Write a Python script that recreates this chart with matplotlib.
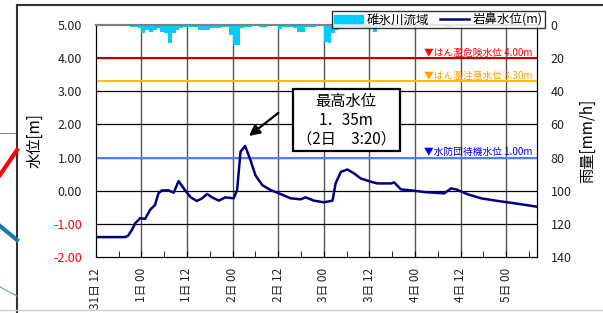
import numpy as np
import matplotlib.pyplot as plt
from matplotlib.patches import Patch
from matplotlib.lines import Line2D
import matplotlib.transforms as mtransforms

plt.rcParams['font.family'] = ['Noto Sans CJK JP', 'DejaVu Sans']

# 岩鼻水位 (31日12時からの経過時間[h], 水位[m])
level_hours = [0, 7.7, 8.5, 9.5, 10.4, 11.7, 13, 14.3, 15.6, 16.5, 17.4, 19.2, 20.5, 21.8,
               23.6, 25, 26.6, 28, 29.3, 30.6, 32.4, 34.1, 36.3, 37.2, 38.1, 39.3, 40.7,
               42, 43.8, 46, 48.2, 51.3, 53.9, 55.2, 57.4, 60, 62.3, 63.1, 64.5, 66.2, 68,
               69.7, 72.4, 74.1, 77.7, 78.5, 80.3, 83.8, 86.4, 89.1, 91.7, 93.5, 94.8,
               97.9, 101.4, 105.8, 110.2, 115.9]
level_m = [-1.40, -1.40, -1.36, -1.19, -0.98, -0.83, -0.85, -0.58, -0.43, -0.08, 0.01, 0.01,
           -0.06, 0.29, 0.00, -0.20, -0.31, -0.23, -0.10, -0.20, -0.30, -0.20, -0.23, 0.02,
           1.18, 1.35, 0.93, 0.47, 0.17, 0.02, -0.08, -0.23, -0.26, -0.20, -0.30, -0.35,
           -0.30, 0.22, 0.57, 0.64, 0.52, 0.37, 0.27, 0.22, 0.22, 0.25, 0.04, 0.00, -0.04,
           -0.06, -0.08, 0.07, 0.04, -0.11, -0.23, -0.31, -0.38, -0.48]

# 碓氷川流域 時間雨量 (経過時間[h], 雨量[mm/h])
rain_hours = [9, 10, 11, 12, 13, 14, 15, 16, 17, 18, 19, 20, 21, 22, 23, 24, 25, 26, 27, 28,
              29, 30, 31, 32, 33, 34, 35, 36, 37, 38, 39, 40, 43, 44, 48, 49, 50, 51, 52, 53,
              54, 55, 56, 57, 60, 61, 62, 63, 64, 65, 66, 67, 68, 69, 70, 71, 72, 73, 74,
              75, 80, 81, 92, 93]
rain_mm = [1, 1, 2, 5, 3, 4, 3, 2, 4, 5, 11, 5, 3, 2, 1, 1, 1, 1, 3, 3,
           3, 2, 2, 2, 1, 1, 6, 12, 12, 2, 1, 1, 1, 1, 2.5, 1, 1, 1, 2, 4,
           4, 1, 1, 1, 10, 11, 5, 3, 2, 1, 1, 1, 1, 1, 2, 2, 1, 4, 1,
           1, 1, 1, 1, 1]

tick_hours = [0, 12, 24, 36, 48, 60, 72, 84, 96, 108]
tick_labels = ['31日 12', '1日 00', '1日 12', '2日 00', '2日 12', '3日 00', '3日 12',
               '4日 00', '4日 12', '5日 00']

ref_levels = [4.00, 3.30, 1.00]
ref_names = ['▼はん濫危険水位 4.00m', '▼はん濫注意水位 3.30m', '▼水防団待機水位 1.00m']
ref_colors = ['#c00000', '#ffc000', '#4f7ff0']
ref_text_colors = ['#ff0000', '#ffa000', '#0000ff']

peak_hour = 39.33
peak_level = 1.35
peak_label = '最高水位\n1．35m\n（2日　3:20）'

fig = plt.figure(figsize=(6.03, 3.13), dpi=100)
ax = fig.add_axes([0.1587, 0.179, 0.7313, 0.741])
ax2 = ax.twinx()

ax.set_xlim(0, 116)
ax.set_ylim(-2, 5)
ax2.set_ylim(140, 0)

# grid
for h in tick_hours[1:]:
    ax.axvline(h, color='#555555', lw=1.0, zorder=1)
for v in range(-1, 5):
    ax.axhline(v, color='black', lw=0.9, zorder=1)

for lv, name, c, tc in zip(ref_levels, ref_names, ref_colors, ref_text_colors):
    ax.axhline(lv, color=c, lw=1.5, zorder=2)
    ax.text(0.99, lv + 0.02, name, color=tc, fontsize=7, ha='right', va='bottom',
            transform=mtransforms.blended_transform_factory(ax.transAxes, ax.transData),
            zorder=3)

ax.plot(level_hours, level_m, color='#000080', lw=1.8, zorder=4)
ax2.bar(rain_hours, rain_mm, width=1.0, align='edge', color='#00ccff', lw=0)

ax.set_yticks(np.arange(-2, 6, 1))
ax.set_yticklabels(['%.2f' % v for v in np.arange(-2, 6, 1)], fontsize=9, color='#222222')
for lab in ax.get_yticklabels()[:2]:
    lab.set_color('#ff0000')
ax2.set_yticks(np.arange(0, 141, 20))
ax2.set_yticklabels([str(v) for v in range(0, 141, 20)], fontsize=9, color='#222222')

ax.set_xticks(tick_hours)
ax.set_xticklabels(tick_labels, rotation=90, fontsize=8.5, color='#222222')
ax.set_xticks(np.arange(6, 116, 12), minor=True)
ax.tick_params(axis='x', which='both', direction='in', length=4, pad=8)
ax.tick_params(axis='y', direction='in', length=0, pad=10)
ax2.tick_params(axis='y', direction='in', length=0, pad=10)

ax.set_ylabel('水位[m]', fontsize=11, labelpad=7)
ax2.set_ylabel('雨量[mm/h]', fontsize=11, labelpad=5)

for a in (ax, ax2):
    a.spines['top'].set_color('#808080')
    a.spines['top'].set_linewidth(1.5)

# annotation
ax.annotate('', xy=(peak_hour + 0.4, peak_level + 0.25), xytext=(peak_hour + 9.3, peak_level + 1.05),
            arrowprops=dict(arrowstyle='-|>', color='black', lw=1.6, mutation_scale=16), zorder=6)
ax.text(65.9, 2.13, peak_label, ha='center', va='center', fontsize=11, linespacing=1.15,
        bbox=dict(boxstyle='square,pad=0.25', fc='white', ec='black', lw=1.6), zorder=6)

handles = [Patch(color='#00ccff'), Line2D([], [], color='#000080', lw=1.8)]
leg = fig.legend(handles, ['碓氷川流域', '岩鼻水位(m)'], loc='upper right',
                 bbox_to_anchor=(551 / 603, 1 - 5 / 313), ncol=2, fontsize=9,
                 frameon=True, fancybox=False, edgecolor='black', borderpad=0.15,
                 handlelength=2.3, handletextpad=0.3, columnspacing=0.9)
leg.get_frame().set_linewidth(1.0)

# 切り抜き画像の枠線など
fig.add_artist(Line2D([17 / 603, 17 / 603], [0, 1 - 5 / 313], color='#333333', lw=1.5))
fig.add_artist(Line2D([17 / 603, 1], [1 - 5 / 313, 1 - 5 / 313], color='#333333', lw=1.5))
fig.add_artist(Line2D([0, 1], [1 - 310 / 313, 1 - 310 / 313], color='#cccccc', lw=1.0))
fig.add_artist(Line2D([0, 15 / 603], [1 - 133 / 313, 1 - 133 / 313], color='#888888', lw=0.8))
fig.add_artist(Line2D([0, 17 / 603], [1 - 175 / 313, 1 - 150 / 313], color='#ff0000', lw=3))
fig.add_artist(Line2D([0, 17 / 603], [1 - 226 / 313, 1 - 240 / 313], color='#1a7ab0', lw=3))
fig.add_artist(Line2D([0, 17 / 603], [1 - 287 / 313, 1 - 296 / 313], color='#5a9ad0', lw=0.8))

fig.savefig('out.png', dpi=100)
